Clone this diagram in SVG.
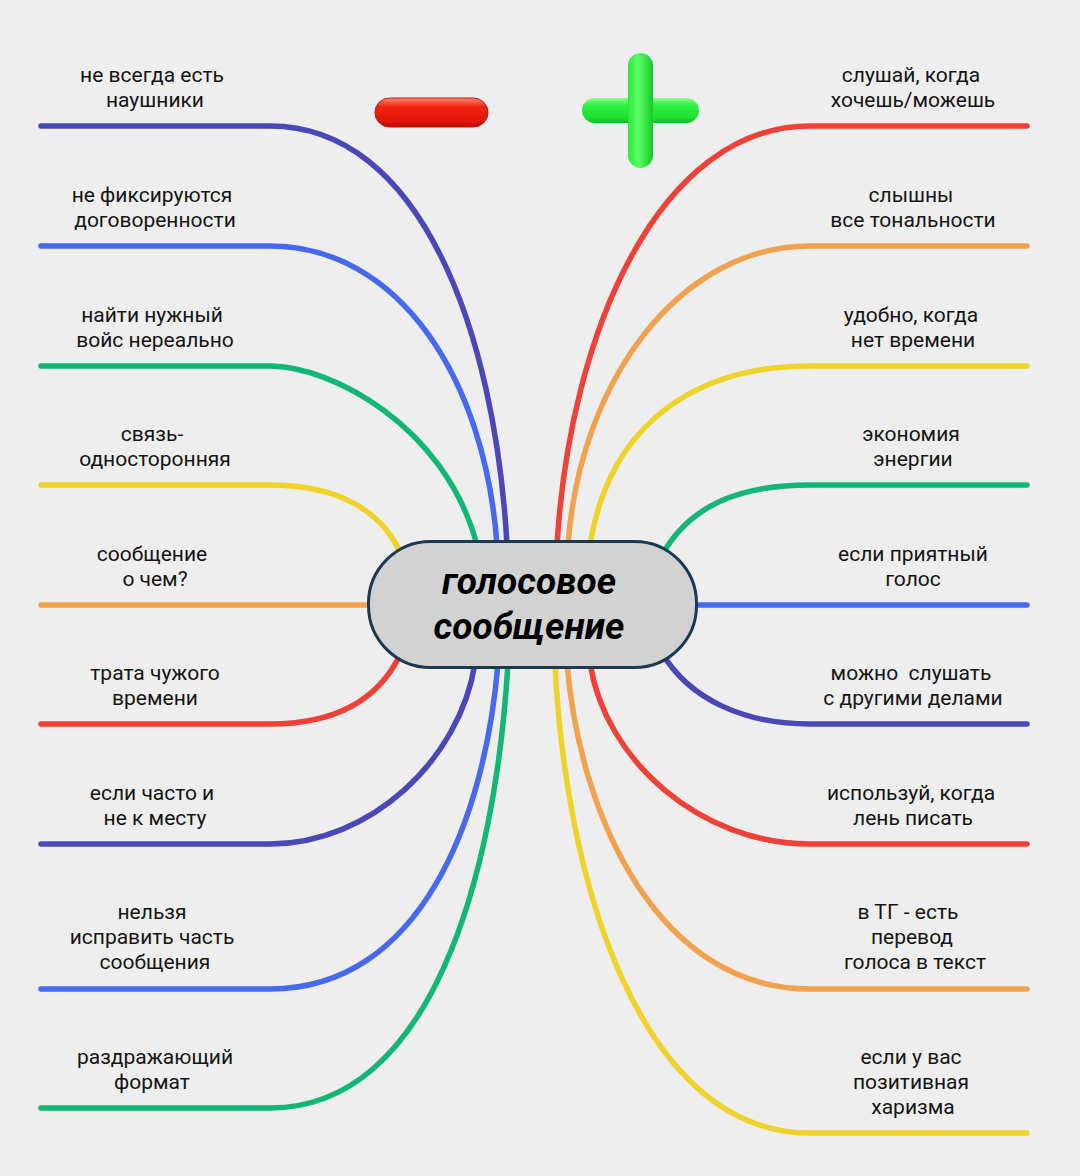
<svg xmlns="http://www.w3.org/2000/svg" width="1080" height="1176" viewBox="0 0 1080 1176">
<style>
.lbl{font-family:Roboto,"Liberation Sans",sans-serif;font-size:21px;fill:#141414;text-anchor:middle;white-space:pre}
.ctr{font-family:Roboto,"Liberation Sans",sans-serif;font-size:37px;font-weight:bold;font-style:italic;fill:#000;text-anchor:middle}
.c{fill:none;stroke-width:5.5;stroke-linecap:round}
.db{stroke:#4a48b6}.bl{stroke:#4669f0}.gr{stroke:#12b676}.ye{stroke:#f0d32a}.or{stroke:#f2a24e}.rd{stroke:#ef4137}
</style>
<defs>
<linearGradient id="gRed" x1="0" y1="0" x2="0" y2="1">
<stop offset="0" stop-color="#ff8a70"/><stop offset="0.3" stop-color="#f0230f"/><stop offset="0.8" stop-color="#e01508"/><stop offset="1" stop-color="#b50800"/>
</linearGradient>
<linearGradient id="gGreen" x1="0" y1="0" x2="0" y2="1">
<stop offset="0" stop-color="#8aff8a"/><stop offset="0.3" stop-color="#2ef040"/><stop offset="0.8" stop-color="#1ee032"/><stop offset="1" stop-color="#12b822"/>
</linearGradient>
<linearGradient id="gGreenV" x1="0" y1="0" x2="1" y2="0">
<stop offset="0" stop-color="#2ee83e"/><stop offset="0.4" stop-color="#5cff66"/><stop offset="1" stop-color="#18c82a"/>
</linearGradient>
</defs>
<rect width="1080" height="1176" fill="#eeeeee"/>

<g id="icons">
<rect x="375" y="98" width="113" height="29" rx="14.5" fill="url(#gRed)" stroke="#c41208" stroke-width="1"/>
<rect x="582" y="98" width="117" height="25" rx="12.5" fill="url(#gGreen)"/>
<rect x="628" y="53" width="25" height="115" rx="12.5" fill="url(#gGreenV)"/>
</g>

<g id="connectors">
<path class="c db" d="M41,126 H270 C420,126 495,330 507,545"/>
<path class="c bl" d="M41,246 H270 C400,246 485,380 497,545"/>
<path class="c gr" d="M41,366 H270 C330,366 445,425 477,545"/>
<path class="c ye" d="M41,485 H270 C330,485 378,505 400,552"/>
<path class="c or" d="M41,605 H372"/>
<path class="c rd" d="M41,724 H270 C335,724 378,700 400,655"/>
<path class="c db" d="M41,844 H270 C370,844 460,760 475,663"/>
<path class="c bl" d="M41,989 H270 C420,989 485,820 498,663"/>
<path class="c gr" d="M41,1108 H270 C430,1108 495,880 508,663"/>

<path class="c rd" d="M1027,126 H810 C660,126 570,330 557,545"/>
<path class="c or" d="M1027,246 H810 C680,246 580,380 568,545"/>
<path class="c ye" d="M1027,366 H810 C700,366 610,420 590,545"/>
<path class="c gr" d="M1027,485 H810 C740,485 690,505 662,555"/>
<path class="c bl" d="M1027,605 H693"/>
<path class="c db" d="M1027,724 H810 C745,724 690,700 662,653"/>
<path class="c rd" d="M1027,844 H810 C700,844 605,760 590,663"/>
<path class="c or" d="M1027,989 H810 C660,989 580,820 567,663"/>
<path class="c ye" d="M1027,1133 H810 C640,1133 565,880 555,663"/>
</g>

<g id="center">
<rect x="368.5" y="541.5" width="328" height="126" rx="62" fill="#d2d2d2" stroke="#1b3a52" stroke-width="3"/>
<text class="ctr" x="529" y="594">голосовое</text>
<text class="ctr" x="529" y="639">сообщение</text>
</g>

<g id="l1"><text class="lbl" x="152" y="82">не всегда есть</text><text class="lbl" x="155" y="107">наушники</text></g>
<g id="l2"><text class="lbl" x="152" y="202">не фиксируются</text><text class="lbl" x="155" y="227">договоренности</text></g>
<g id="l3"><text class="lbl" x="152" y="322">найти нужный</text><text class="lbl" x="155" y="347">войс нереально</text></g>
<g id="l4"><text class="lbl" x="152" y="441">связь-</text><text class="lbl" x="155" y="466">односторонняя</text></g>
<g id="l5"><text class="lbl" x="152" y="561">сообщение</text><text class="lbl" x="155" y="586">о чем?</text></g>
<g id="l6"><text class="lbl" x="155" y="680">трата чужого</text><text class="lbl" x="155" y="705">времени</text></g>
<g id="l7"><text class="lbl" x="152" y="800">если часто и</text><text class="lbl" x="155" y="825">не к месту</text></g>
<g id="l8"><text class="lbl" x="152" y="919">нельзя</text><text class="lbl" x="152" y="944">исправить часть</text><text class="lbl" x="155" y="969">сообщения</text></g>
<g id="l9"><text class="lbl" x="155" y="1064">раздражающий</text><text class="lbl" x="152" y="1089">формат</text></g>

<g id="r1"><text class="lbl" x="911" y="82">слушай, когда</text><text class="lbl" x="913" y="107">хочешь/можешь</text></g>
<g id="r2"><text class="lbl" x="911" y="202">слышны</text><text class="lbl" x="913" y="227">все тональности</text></g>
<g id="r3"><text class="lbl" x="911" y="322">удобно, когда</text><text class="lbl" x="913" y="347">нет времени</text></g>
<g id="r4"><text class="lbl" x="911" y="441">экономия</text><text class="lbl" x="913" y="466">энергии</text></g>
<g id="r5"><text class="lbl" x="913" y="561">если приятный</text><text class="lbl" x="913" y="586">голос</text></g>
<g id="r6"><text class="lbl" x="911" y="680">можно  слушать</text><text class="lbl" x="913" y="705">с другими делами</text></g>
<g id="r7"><text class="lbl" x="911" y="800">используй, когда</text><text class="lbl" x="913" y="825">лень писать</text></g>
<g id="r8"><text class="lbl" x="908" y="919">в ТГ - есть</text><text class="lbl" x="912" y="944">перевод</text><text class="lbl" x="915" y="969">голоса в текст</text></g>
<g id="r9"><text class="lbl" x="911" y="1064">если у вас</text><text class="lbl" x="911" y="1089">позитивная</text><text class="lbl" x="913" y="1114">харизма</text></g>
</svg>
